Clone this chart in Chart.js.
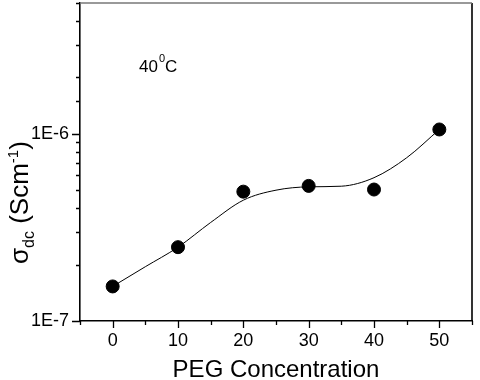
<!DOCTYPE html>
<html>
<head>
<meta charset="utf-8">
<script src="https://cdn.jsdelivr.net/npm/chart.js@4/dist/chart.umd.min.js"></script>
<style>
  html, body { margin: 0; padding: 0; background: #fff; }
  canvas { display: block; }
</style>
</head>
<body>
<canvas id="chart" width="480" height="380"></canvas>
<script>
// measured points
const concentration = [0, 10, 20, 30, 40, 50];
const sigma = [1.53e-7, 2.48e-7, 4.91e-7, 5.27e-7, 5.04e-7, 1.055e-6];

// smooth fit curve
const fitX = [0, 5, 10, 15, 20, 25, 30, 35, 40, 45, 50];
const fitY = [1.53e-7, 1.95e-7, 2.48e-7, 3.36e-7, 4.42e-7, 5.0e-7, 5.21e-7, 5.25e-7, 5.83e-7, 7.45e-7, 1.055e-6];

const xLabels = [0, 10, 20, 30, 40, 50];
const yLabels = ["1E-7", "1E-6"];

const FONT = "'Liberation Sans', Arial, Helvetica, sans-serif";
Chart.defaults.font.family = FONT;
Chart.defaults.color = "#000";

function isDecade(v) {
  const l = Math.log10(v);
  return Math.abs(l - Math.round(l)) < 1e-6;
}

function noPad(s) {
  s.paddingTop = 0;
  s.paddingBottom = 0;
  s.paddingLeft = 0;
  s.paddingRight = 0;
}

// --------------------
// tick marks, frame, titles
// --------------------
const decor = {
  id: "decor",
  afterDraw(chart) {
    const { ctx, chartArea: a, scales: { x, y } } = chart;
    ctx.save();
    ctx.strokeStyle = "#000";
    ctx.lineWidth = 1.3;
    ctx.beginPath();
    x.ticks.forEach(t => {
      const px = Math.round(x.getPixelForValue(t.value)) + 0.5;
      const len = xLabels.includes(t.value) ? 7 : 4;
      ctx.moveTo(px, a.bottom);
      ctx.lineTo(px, a.bottom + len);
    });
    y.ticks.forEach(t => {
      const py = Math.round(y.getPixelForValue(t.value)) + 0.5;
      const len = isDecade(t.value) ? 8 : 4;
      ctx.moveTo(a.left, py);
      ctx.lineTo(a.left - len, py);
    });
    ctx.stroke();

    // right and top border
    ctx.lineWidth = 1.6;
    ctx.beginPath();
    ctx.moveTo(a.right, a.bottom);
    ctx.lineTo(a.right, a.top);
    ctx.stroke();
    ctx.strokeStyle = "#777";
    ctx.beginPath();
    ctx.moveTo(a.left, a.top);
    ctx.lineTo(a.right, a.top);
    ctx.stroke();

    // x title
    ctx.fillStyle = "#000";
    ctx.textAlign = "center";
    ctx.textBaseline = "alphabetic";
    ctx.font = "24px " + FONT;
    ctx.fillText("PEG Concentration", (a.left + a.right) / 2, 377);

    // y title, rotated: σ_dc (Scm^-1)
    ctx.save();
    ctx.translate(28, 264);
    ctx.rotate(-Math.PI / 2);
    ctx.textAlign = "left";
    const parts = [
      { t: "σ", size: 26, dy: 0 },
      { t: "dc", size: 16, dy: 6 },
      { t: " (Scm", size: 26, dy: 0 },
      { t: "-1", size: 15, dy: -10 },
      { t: ")", size: 26, dy: 0 }
    ];
    let cx = 0;
    parts.forEach(p => {
      ctx.font = p.size + "px " + FONT;
      ctx.fillText(p.t, cx, p.dy);
      cx += ctx.measureText(p.t).width;
    });
    ctx.restore();

    // temperature note
    ctx.textAlign = "left";
    let tx = 139;
    ctx.font = "17px " + FONT;
    ctx.fillText("40", tx, 72);
    tx += ctx.measureText("40").width + 1;
    ctx.font = "11px " + FONT;
    ctx.fillText("0", tx, 62);
    tx += ctx.measureText("0").width;
    ctx.font = "17px " + FONT;
    ctx.fillText("C", tx, 72);
    ctx.restore();
  }
};

new Chart(document.getElementById("chart"), {
  type: "scatter",
  data: {
    datasets: [
      {
        label: "data",
        data: concentration.map((c, i) => ({ x: c, y: sigma[i] })),
        backgroundColor: "#000",
        borderColor: "#000",
        pointRadius: 6.5,
        showLine: false
      },
      {
        label: "fit",
        data: fitX.map((c, i) => ({ x: c, y: fitY[i] })),
        showLine: true,
        borderColor: "#000",
        borderWidth: 1,
        pointRadius: 0,
        cubicInterpolationMode: "monotone"
      }
    ]
  },
  options: {
    responsive: false,
    animation: false,
    layout: { autoPadding: false, padding: { left: 0, top: 3, right: 8, bottom: 0 } },
    plugins: {
      legend: { display: false },
      tooltip: { enabled: false }
    },
    scales: {
      x: {
        type: "linear",
        min: -5,
        max: 55,
        afterFit: s => { s.height = 59; noPad(s); },
        border: { display: true, color: "#000", width: 1.6 },
        grid: { drawOnChartArea: false, drawTicks: false },
        ticks: {
          stepSize: 5,
          autoSkip: false,
          maxRotation: 0,
          padding: 9,
          font: { size: 18 },
          callback: v => xLabels.includes(v) ? String(v) : ""
        }
      },
      y: {
        type: "logarithmic",
        min: 1e-7,
        max: 5e-6,
        afterFit: s => { s.width = 80; noPad(s); },
        border: { display: true, color: "#000", width: 1.6 },
        grid: { drawOnChartArea: false, drawTicks: false },
        ticks: {
          autoSkip: false,
          padding: 11,
          font: { size: 18 },
          callback: v => isDecade(v) ? yLabels[Math.round(Math.log10(v)) + 7] || "" : ""
        }
      }
    }
  },
  plugins: [decor]
});
</script>
</body>
</html>
